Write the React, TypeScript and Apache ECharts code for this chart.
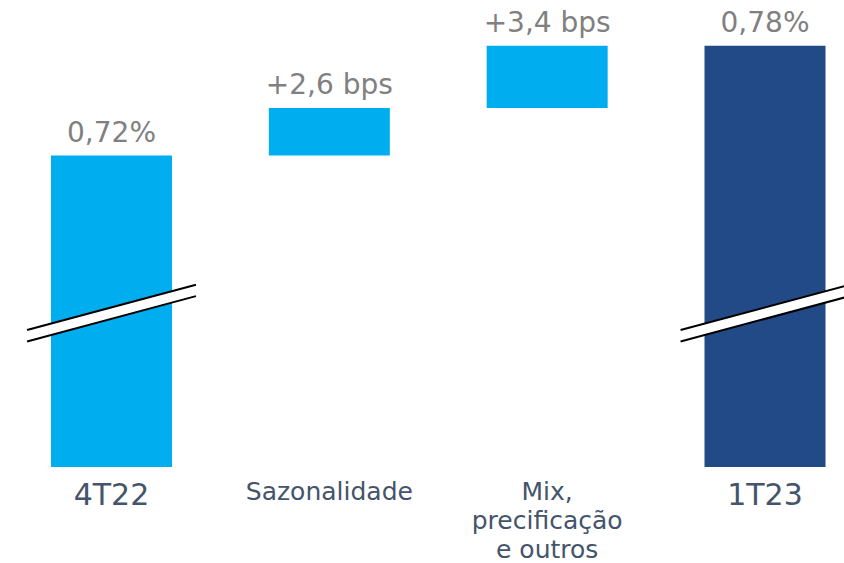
import React, { useEffect, useRef } from "react";
import * as echarts from "echarts";

const categories = ["4T22", "Sazonalidade", "Mix,\nprecificação\ne outros", "1T23"];
const baseValues = [0, 0.72, 0.746, 0];
const barValues = [0.72, 0.026, 0.034, 0.78];
const valueLabels = ["0,72%", "+2,6 bps", "+3,4 bps", "0,78%"];
const barColors = ["#00AEEF", "#00AEEF", "#00AEEF", "#224A86"];
const breakPoints = [
  [0, 0.634],
  [3, 0.634],
];

export default function App() {
  const ref = useRef<HTMLDivElement>(null);
  useEffect(() => {
    if (!ref.current) return;
    const chart = echarts.init(ref.current, null, { renderer: "svg" });
    const font = "'DejaVu Sans', 'Open Sans', sans-serif";
    chart.setOption({
      animation: false,
      grid: { left: 111.5, top: 9, width: 653.5, height: 458, containLabel: false },
      xAxis: {
        type: "category",
        data: categories,
        boundaryGap: false,
        axisLine: { show: false },
        axisTick: { show: false },
        splitLine: { show: false },
        axisLabel: {
          interval: 0,
          margin: 10,
          formatter: (v: string, i: number) =>
            i === 0 || i === 3 ? `{big|${v}}` : `{small|${v}}`,
          rich: {
            big: { fontSize: 30, color: "#44546A", fontFamily: font, lineHeight: 34 },
            small: { fontSize: 25, color: "#44546A", fontFamily: font, lineHeight: 29 },
          },
        },
      },
      yAxis: {
        type: "value",
        min: 0.55,
        max: 0.8,
        show: false,
        splitLine: { show: false },
      },
      series: [
        {
          type: "bar",
          stack: "w",
          data: baseValues,
          barWidth: 121,
          itemStyle: { color: "transparent" },
          silent: true,
        },
        {
          type: "bar",
          stack: "w",
          barWidth: 121,
          data: barValues.map((v, i) => ({ value: v, itemStyle: { color: barColors[i] } })),
          label: {
            show: true,
            position: "top",
            distance: 9,
            color: "#808080",
            fontSize: 28,
            fontFamily: font,
            formatter: (p: any) => valueLabels[p.dataIndex],
          },
        },
        {
          type: "custom",
          clip: false,
          silent: true,
          z: 10,
          data: breakPoints,
          renderItem: (params: any, api: any) => {
            const c = api.coord([api.value(0), api.value(1)]);
            const catW = api.size([1, 0])[0];
            const half = catW * 0.3876;
            const rise = half * 0.2685;
            const gap = 5.7;
            const x0 = c[0] - half;
            const x1 = c[0] + half;
            const t0 = c[1] - gap + rise;
            const t1 = c[1] - gap - rise;
            const b0 = c[1] + gap + rise;
            const b1 = c[1] + gap - rise;
            return {
              type: "group",
              children: [
                {
                  type: "polygon",
                  shape: { points: [[x0, t0], [x1, t1], [x1, b1], [x0, b0]] },
                  style: { fill: "#ffffff" },
                },
                {
                  type: "line",
                  shape: { x1: x0, y1: t0, x2: x1, y2: t1 },
                  style: { stroke: "#000000", lineWidth: 2 },
                },
                {
                  type: "line",
                  shape: { x1: x0, y1: b0, x2: x1, y2: b1 },
                  style: { stroke: "#000000", lineWidth: 2 },
                },
              ],
            };
          },
        },
      ],
    });
    return () => chart.dispose();
  }, []);
  return (
    <div
      ref={ref}
      style={{ position: "fixed", left: 0, top: 0, width: 844, height: 563, background: "#ffffff" }}
    />
  );
}
